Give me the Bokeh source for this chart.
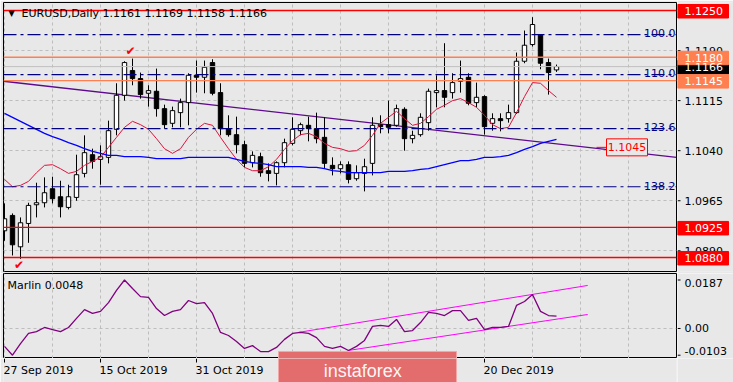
from bokeh.plotting import figure
from bokeh.layouts import column, row
from bokeh.models import Range1d, FixedTicker, Grid, Label, Span, ColumnDataSource
from bokeh.core.properties import value
from bokeh.embed import file_html
from bokeh.resources import INLINE

# ---------------- data ----------------
bars = list(range(70))
opens = [1.0920, 1.0943, 1.0896, 1.0931, 1.0959, 1.0962, 1.0983, 1.0971, 1.0955, 1.0970,
         1.1006, 1.1034, 1.1027, 1.1030, 1.1072, 1.1123, 1.1160, 1.1148, 1.1126, 1.1129,
         1.1103, 1.1081, 1.1097, 1.1112, 1.1153, 1.1150, 1.1172, 1.1127, 1.1073, 1.1064,
         1.1049, 1.1022, 1.1031, 1.1010, 1.1006, 1.1022, 1.1051, 1.1070, 1.1078, 1.1073,
         1.1060, 1.1018, 1.1013, 1.1019, 1.0998, 1.1006, 1.1021, 1.1079, 1.1079, 1.1078,
         1.1102, 1.1058, 1.1064, 1.1082, 1.1127, 1.1130, 1.1127, 1.1144, 1.1150, 1.1112,
         1.1121, 1.1081, 1.1088, 1.1088, 1.1097, 1.1174, 1.1199, 1.1213, 1.1172, 1.1161]
highs = [1.0961, 1.0946, 1.0940, 1.0962, 1.0992, 1.1000, 1.1001, 1.0995, 1.0989, 1.1034,
         1.1063, 1.1043, 1.1048, 1.1085, 1.1141, 1.1174, 1.1178, 1.1157, 1.1138, 1.1163,
         1.1109, 1.1106, 1.1118, 1.1156, 1.1175, 1.1175, 1.1177, 1.1141, 1.1093, 1.1091,
         1.1055, 1.1039, 1.1037, 1.1021, 1.1024, 1.1058, 1.1090, 1.1082, 1.1091, 1.1097,
         1.1090, 1.1030, 1.1024, 1.1024, 1.1018, 1.1028, 1.1090, 1.1093, 1.1115, 1.1109,
         1.1105, 1.1070, 1.1096, 1.1133, 1.1153, 1.1201, 1.1156, 1.1175, 1.1156, 1.1142,
         1.1123, 1.1096, 1.1096, 1.1109, 1.1187, 1.1220, 1.1240, 1.1214, 1.1178, 1.1169]
lows = [1.0905, 1.0883, 1.0878, 1.0902, 1.0940, 1.0955, 1.0961, 1.0940, 1.0952, 1.0965,
        1.1000, 1.1013, 1.0989, 1.1021, 1.1063, 1.1115, 1.1138, 1.1118, 1.1106, 1.1091,
        1.1073, 1.1075, 1.1075, 1.1078, 1.1127, 1.1126, 1.1123, 1.1063, 1.1061, 1.1036,
        1.1015, 1.1015, 1.1001, 1.0994, 1.0988, 1.1015, 1.1048, 1.1063, 1.1054, 1.1051,
        1.1013, 1.1003, 1.1006, 1.0991, 1.0995, 1.0979, 1.1003, 1.1066, 1.1066, 1.1076,
        1.1040, 1.1051, 1.1061, 1.1070, 1.1105, 1.1105, 1.1118, 1.1127, 1.1108, 1.1105,
        1.1064, 1.1070, 1.1069, 1.1082, 1.1095, 1.1171, 1.1196, 1.1162, 1.1124, 1.1158]
closes = [1.0938, 1.0899, 1.0932, 1.0958, 1.0962, 1.0977, 1.0968, 1.0956, 1.0971, 1.1004,
          1.1037, 1.1024, 1.1031, 1.1070, 1.1123, 1.1172, 1.1148, 1.1124, 1.1130, 1.1103,
          1.1079, 1.1100, 1.1112, 1.1153, 1.1150, 1.1165, 1.1126, 1.1073, 1.1064, 1.1049,
          1.1021, 1.1033, 1.1007, 1.1006, 1.1022, 1.1052, 1.1072, 1.1079, 1.1073, 1.1058,
          1.1021, 1.1013, 1.1019, 1.0997, 1.1007, 1.1016, 1.1078, 1.1076, 1.1075, 1.1103,
          1.1058, 1.1063, 1.1090, 1.1129, 1.1130, 1.1120, 1.1142, 1.1148, 1.1111, 1.1120,
          1.1076, 1.1088, 1.1085, 1.1097, 1.1174, 1.1198, 1.1229, 1.1171, 1.1157, 1.1166]
ma_blue = [1.1096, 1.1090, 1.1084, 1.1078, 1.1072, 1.1066, 1.1061, 1.1057, 1.1052, 1.1048,
           1.1043, 1.1039, 1.1036, 1.1033, 1.1033, 1.1031, 1.1031, 1.1031, 1.1030, 1.1028,
           1.1028, 1.1028, 1.1028, 1.1030, 1.1030, 1.1030, 1.1030, 1.1030, 1.1030, 1.1027,
           1.1024, 1.1022, 1.1021, 1.1019, 1.1016, 1.1016, 1.1016, 1.1016, 1.1015, 1.1015,
           1.1013, 1.1010, 1.1009, 1.1007, 1.1007, 1.1007, 1.1007, 1.1007, 1.1009, 1.1009,
           1.1009, 1.1010, 1.1012, 1.1013, 1.1016, 1.1019, 1.1022, 1.1025, 1.1025, 1.1027,
           1.1030, 1.1030, 1.1031, 1.1033, 1.1037, 1.1042, 1.1046, 1.1051, 1.1054, 1.1057]
ma_red = [1.0997, 1.0986, 1.0988, 1.0994, 1.1007, 1.1018, 1.1019, 1.1013, 1.1006, 1.1009,
          1.1018, 1.1024, 1.1030, 1.1045, 1.1060, 1.1075, 1.1084, 1.1079, 1.1072, 1.1058,
          1.1043, 1.1036, 1.1043, 1.1060, 1.1072, 1.1081, 1.1078, 1.1060, 1.1043, 1.1027,
          1.1015, 1.1010, 1.1010, 1.1016, 1.1027, 1.1042, 1.1055, 1.1064, 1.1066, 1.1061,
          1.1051, 1.1045, 1.1043, 1.1039, 1.1040, 1.1048, 1.1063, 1.1081, 1.1090, 1.1099,
          1.1088, 1.1078, 1.1081, 1.1091, 1.1102, 1.1108, 1.1115, 1.1118, 1.1112, 1.1105,
          1.1093, 1.1079, 1.1073, 1.1075, 1.1097, 1.1121, 1.1142, 1.1141, 1.1130, 1.1120]
marlin = [-0.0069, -0.0103, -0.0058, -0.0019, -0.0012, 0.0004, -0.0004, -0.0012, 0.0004, 0.0039,
          0.0073, 0.0058, 0.0066, 0.0100, 0.0147, 0.0187, 0.0154, 0.0123, 0.0120, 0.0077,
          0.0050, 0.0066, 0.0073, 0.0108, 0.0096, 0.0100, 0.0058, -0.0015, -0.0027, -0.0050,
          -0.0077, -0.0066, -0.0089, -0.0089, -0.0073, -0.0042, -0.0019, -0.0015, -0.0019, -0.0035,
          -0.0069, -0.0077, -0.0069, -0.0085, -0.0069, -0.0046, 0.0008, 0.0012, 0.0008, 0.0035,
          -0.0012, -0.0008, 0.0023, 0.0062, 0.0058, 0.0050, 0.0069, 0.0069, 0.0031, 0.0039,
          -0.0004, 0.0004, 0.0004, 0.0008, 0.0089, 0.0104, 0.0131, 0.0066, 0.0050, 0.0048]

red_levels = [1.1250, 1.0925, 1.0880]
orange_levels = [1.1180, 1.1145]
current_price = 1.1166
fib_levels = [100.0, 110.0, 123.6, 138.2, 161.8]
fib_prices = [1.1214, 1.1154, 1.1073, 1.0986, 1.0845]
trend_x = [-0.125, 84.0]
trend_y = [1.1144, 1.1030]
trend_label_price = 1.1045
trend_label_bar = 77.8
chan_up_x = [36.75, 72.9]
chan_up_y = [-0.0015, 0.0166]
chan_lo_x = [42.9, 72.9]
chan_lo_y = [-0.0085, 0.0054]

price_ticks = [1.0890, 1.0965, 1.1040, 1.1115, 1.1190]
marlin_ticks = [0.0187, 0.0, -0.0103]
marlin_tick_labels = ["0.0187", "0.00", "-0.0103"]
date_ticks = [0, 12, 24, 60]
date_labels = ["27 Sep 2019", "15 Oct 2019", "31 Oct 2019", "20 Dec 2019"]
title_text = "EURUSD,Daily  1.1161 1.1169 1.1158 1.1166"
brand_text = "instaforex"

# ---------------- styling / layout ----------------
BG = "#E8E8E8"
GRID = "#BDBDBD"
FONT = "DejaVu Sans"
MAIN_W, SCALE_W = 677, 56
MAIN_H, OSC_H, DATE_H = 273, 85, 24
x_rng = Range1d(-0.125, 84.0)
py_rng = Range1d(1.0859, 1.1262)
my_rng = Range1d(-0.01157, 0.02121)
grid_bars = list(range(0, 85, 6))
pu = (py_rng.end - py_rng.start) / (MAIN_H - 4)   # price per pixel


def base(width, height, xr, yr, left=0, right=0, top=0, bottom=0, outline=None):
    f = figure(width=width, height=height, x_range=xr, y_range=yr, output_backend="svg",
               toolbar_location=None, x_axis_location=None, y_axis_location=None,
               min_border_left=left, min_border_right=right, min_border_top=top,
               min_border_bottom=bottom, background_fill_color=BG, border_fill_color=BG,
               outline_line_color=outline)
    f.grid.visible = False
    return f


# ---- main price panel ----
p = base(MAIN_W, MAIN_H, x_rng, py_rng, left=3, right=1, top=2, bottom=2, outline="black")
p.add_layout(Grid(dimension=0, ticker=FixedTicker(ticks=grid_bars), grid_line_color=GRID,
                  grid_line_dash="3 3"))
p.add_layout(Grid(dimension=1, ticker=FixedTicker(ticks=price_ticks), grid_line_color=GRID,
                  grid_line_dash="3 3"))

p.add_layout(Span(location=current_price, dimension="width", line_color="#C0C0C0", line_width=1))
for lv in fib_prices:
    p.add_layout(Span(location=lv, dimension="width", line_color="#000080", line_width=1.2,
                      line_dash="13 4 3 4"))
for lv in orange_levels:
    p.add_layout(Span(location=lv, dimension="width", line_color="#FF7F50", line_width=1.3))
for lv in red_levels:
    p.add_layout(Span(location=lv, dimension="width", line_color="#FF0000", line_width=1.3))

p.line(trend_x, trend_y, line_color="#5E0A8E", line_width=1.3)

body_top = [max(o, c) for o, c in zip(opens, closes)]
body_bot = [min(o, c) for o, c in zip(opens, closes)]
fills = ["white" if c >= o else "black" for o, c in zip(opens, closes)]
src = ColumnDataSource(dict(x=bars, lo=lows, hi=highs, top=body_top, bot=body_bot, fill=fills))
p.segment(x0="x", y0="lo", x1="x", y1="hi", source=src, line_color="black", line_width=1)
p.vbar(x="x", width=0.55, top="top", bottom="bot", source=src, fill_color="fill",
       line_color="black", line_width=1)

p.line(bars, ma_red, line_color="#E0103C", line_width=1)
p.line(bars, ma_blue, line_color="#0000FF", line_width=1.3)

p.text(x=[83.875] * len(fib_prices), y=[v + 1.2 * pu for v in fib_prices],
       text=["%.1f" % f for f in fib_levels], text_font=value(FONT), text_font_size="11px",
       text_color="#000080", text_align="right", text_baseline="alphabetic")

# trend-line price label (1.1045)
p.segment(x0=[74.0], y0=[trend_label_price], x1=[75.25], y1=[trend_label_price],
          line_color="#FF0000", line_width=1)
p.quad(left=[75.25], right=[80.375], top=[trend_label_price + 8.5 * pu],
       bottom=[trend_label_price - 8.5 * pu], fill_color=BG, line_color="#FF0000",
       line_width=1)
p.text(x=[trend_label_bar], y=[trend_label_price], text=["%.4f" % trend_label_price],
       text_font=value(FONT), text_font_size="11px", text_color="#FF0000",
       text_align="center", text_baseline="middle")

p.add_layout(Label(x=0.875, y=1.12455, text="\u25BC", text_font=FONT, text_font_size="8px",
                   text_color="black", text_align="center", text_baseline="middle"))
p.add_layout(Label(x=2.125, y=1.12455, text=title_text, text_font=FONT, text_font_size="11px",
                   text_color="black", text_align="left", text_baseline="middle"))

p.add_layout(Label(x=15.75, y=1.1190, text="\u2714", text_font=FONT, text_font_size="12px",
                   text_color="#FF0000", text_align="center", text_baseline="middle"))
p.add_layout(Label(x=1.81, y=1.0868, text="\u2714", text_font=FONT, text_font_size="12px",
                   text_color="#FF0000", text_align="center", text_baseline="middle"))

# ---- price scale column (x in pixels) ----
ps = base(SCALE_W, MAIN_H, Range1d(0, SCALE_W), py_rng, top=2, bottom=2)
ps.segment(x0=[0] * len(price_ticks), y0=price_ticks, x1=[3] * len(price_ticks),
           y1=price_ticks, line_color="black", line_width=1)
ps.text(x=[7] * len(price_ticks), y=price_ticks, text=["%.4f" % v for v in price_ticks],
        text_font=value(FONT), text_font_size="11px", text_color="black",
        text_align="left", text_baseline="middle")
box_prices = [current_price] + red_levels + orange_levels
box_colors = ["black"] + ["#FF0000"] * len(red_levels) + ["#FF7F50"] * len(orange_levels)
ps.quad(left=[0] * len(box_prices), right=[51] * len(box_prices),
        top=[v + 6 * pu for v in box_prices], bottom=[v - 7.5 * pu for v in box_prices],
        fill_color=box_colors, line_color=box_colors)
ps.text(x=[7] * len(box_prices), y=[v - 0.75 * pu for v in box_prices],
        text=["%.4f" % v for v in box_prices], text_font=value(FONT), text_font_size="11px",
        text_color="white", text_align="left", text_baseline="middle")

# ---- oscillator panel ----
q = base(MAIN_W, OSC_H, x_rng, my_rng, left=3, right=1, outline="black")
q.add_layout(Grid(dimension=0, ticker=FixedTicker(ticks=grid_bars), grid_line_color=GRID,
                  grid_line_dash="3 3"))
q.add_layout(Grid(dimension=1, ticker=FixedTicker(ticks=[0.0]), grid_line_color=GRID,
                  grid_line_dash="3 3"))
q.line(chan_up_x, chan_up_y, line_color="#FF00FF", line_width=1)
q.line(chan_lo_x, chan_lo_y, line_color="#FF00FF", line_width=1)
q.line(bars, marlin, line_color="#800080", line_width=1.3)
q.add_layout(Label(x=0.375, y=0.01658, text="Marlin %.4f" % marlin[-1], text_font=FONT,
                   text_font_size="11px", text_color="black", text_align="left",
                   text_baseline="middle"))
q.quad(left=[34.25], right=[56.5], top=[-0.00887], bottom=[my_rng.start - 0.001],
       fill_color="#E36D6D", line_color="#F0A8A8", line_width=1)

qs = base(SCALE_W, OSC_H, Range1d(0, SCALE_W), my_rng)
qs.segment(x0=[0] * 3, y0=marlin_ticks, x1=[3] * 3, y1=marlin_ticks, line_color="black")
qs.text(x=[7] * 3, y=marlin_ticks, text=marlin_tick_labels, y_offset=[3, 0, -4],
        text_font=value(FONT), text_font_size="11px", text_color="black",
        text_align="left", text_baseline="middle")

# ---- date row ----
d = base(MAIN_W, DATE_H, x_rng, Range1d(0, DATE_H), left=3, right=1)
d.segment(x0=date_ticks, y0=[DATE_H] * len(date_ticks), x1=date_ticks,
          y1=[DATE_H - 4] * len(date_ticks), line_color="black")
d.text(x=date_ticks, y=[12] * len(date_ticks), text=date_labels, x_offset=-1,
       text_font=value(FONT), text_font_size="11px", text_color="black",
       text_align="left", text_baseline="middle")
d.quad(left=[34.25], right=[56.5], top=[DATE_H + 1], bottom=[-1],
       fill_color="#E36D6D", line_color="#F0A8A8", line_width=1)
d.text(x=[39.9], y=[11.5], text=[brand_text], text_font=value("Liberation Sans"),
       text_font_size="18px", text_color="white", text_alpha=0.95, text_align="left",
       text_baseline="middle")

dc = base(SCALE_W, DATE_H, Range1d(0, 1), Range1d(0, 1))
dc.scatter([0.5], [0.5], size=0, alpha=0)

layout = column(row(p, ps), row(q, qs), row(d, dc))
open("out.html", "w").write(file_html(layout, INLINE))
